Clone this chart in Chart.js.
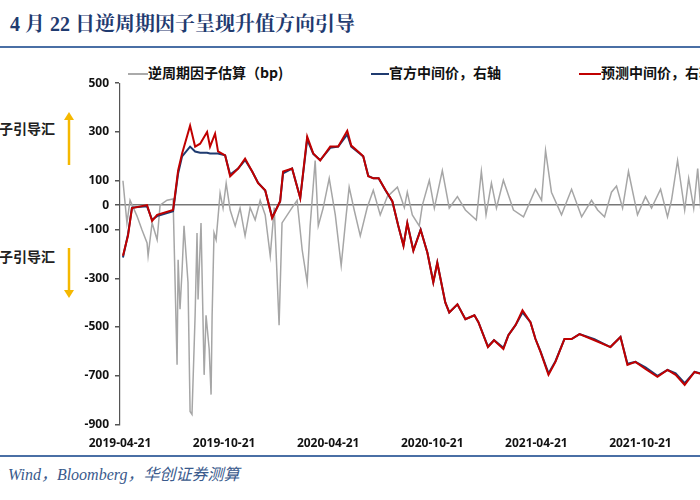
<!DOCTYPE html>
<html><head><meta charset="utf-8">
<script src="https://cdn.jsdelivr.net/npm/chart.js@4/dist/chart.umd.min.js"></script>
<style>
body{margin:0;width:700px;height:500px;overflow:hidden;position:relative;background:#fff;font-family:"Noto Sans CJK SC","Noto Sans",sans-serif}
.t{position:absolute;white-space:nowrap}
</style></head><body>
<div class="t" style="left:10px;top:8px;font-size:20px;font-weight:bold;color:#1f3b70;font-family:'Liberation Serif','Noto Serif CJK SC','Noto Sans CJK SC',serif">4 月 22 日逆周期因子呈现升值方向引导</div>
<div style="position:absolute;left:0;top:46px;width:700px;height:2px;background:#4a6fa5"></div>
<div style="position:absolute;left:0;top:455px;width:700px;height:2px;background:#4a6fa5"></div>
<div class="t" style="left:-72px;top:461px;font-size:16px;font-style:italic;color:#3a5a8c;font-family:'Liberation Serif','Noto Sans CJK SC',serif">资料来源：Wind，Bloomberg，华创证券测算</div>
<div class="t" style="right:645px;top:118px;font-size:14px;font-weight:bold;color:#222">逆周期因子引导汇</div>
<div class="t" style="right:645px;top:246px;font-size:14px;font-weight:bold;color:#222">逆周期因子引导汇</div>
<svg style="position:absolute;left:60px;top:110px" width="20" height="195">
<line x1="9" y1="8" x2="9" y2="55" stroke="#f5b800" stroke-width="2.5"/><polygon points="4,10 14,10 9,2" fill="#f5b800"/>
<line x1="9" y1="138" x2="9" y2="182" stroke="#f5b800" stroke-width="2.5"/><polygon points="4,180 14,180 9,188" fill="#f5b800"/>
</svg>
<div class="t" style="left:128px;top:62px;font-size:14px;font-weight:bold;color:#111"><span style="display:inline-block;width:20px;height:2px;background:#aaa;vertical-align:middle"></span>逆周期因子估算（bp)</div>
<div class="t" style="left:371px;top:62px;font-size:14px;font-weight:bold;color:#111"><span style="display:inline-block;width:18px;height:2px;background:#1f3b70;vertical-align:middle"></span>官方中间价，右轴</div>
<div class="t" style="left:579px;top:62px;font-size:14px;font-weight:bold;color:#111"><span style="display:inline-block;width:22px;height:2px;background:#c00000;vertical-align:middle"></span>预测中间价，右轴</div>
<div style="position:absolute;left:0;top:70px;width:748px;height:385px"><canvas id="c"></canvas></div>
<script>
const tickDates=["2019-04-21","2019-10-21","2020-04-21","2020-10-21","2021-04-21","2021-10-21"];
const yTicks=[500,300,100,0,-100,-300,-500,-700,-900];
const redX=[0.17,0.46,0.69,1.56,1.85,2.14,3.06,3.35,3.58,4.04,4.33,4.62,5.02,5.19,5.48,5.65,6.06,6.35,6.81,7.21,7.62,7.96,8.37,8.77,9.23,9.40,9.92,10.39,10.79,11.14,11.54,12.12,12.58,13.10,13.33,13.85,14.02,14.31,14.60,14.91,15.31,15.70,16.04,16.34,16.56,16.91,17.33,17.72,18.06,18.29,18.75,18.98,19.45,19.91,20.43,20.66,21.21,21.56,22.10,22.39,22.80,23.20,23.66,23.95,24.24,24.70,25.10,25.62,26.03,26.49,27.35,28.27,28.85,29.25,29.71,30.29,30.98,31.56,32.03,32.55,33.12,33.47,33.70,33.87];
const redY=[-208,-126,-12,0,-65,-40,-20,142,212,326,240,252,300,240,293,220,204,118,150,191,138,90,61,-53,16,138,150,28,281,212,183,240,240,305,244,212,200,118,110,110,61,16,-85,-167,-73,-187,-102,-195,-317,-236,-399,-440,-407,-468,-452,-480,-582,-554,-590,-533,-492,-431,-480,-549,-602,-696,-643,-549,-549,-529,-554,-582,-541,-655,-643,-672,-704,-676,-696,-737,-684,-692,-700,-695];
const blueY=[-215,-120,-10,-5,-60,-45,-25,130,200,240,220,215,215,212,212,212,204,125,150,185,138,92,60,-50,15,130,150,30,270,210,185,235,240,290,240,210,200,120,110,110,60,15,-85,-165,-75,-185,-100,-195,-315,-236,-399,-440,-407,-468,-452,-480,-580,-554,-585,-533,-492,-440,-480,-549,-600,-690,-640,-549,-549,-529,-550,-582,-541,-650,-643,-665,-700,-676,-690,-730,-684,-690,-698,-693];
const grayX=[0.17,0.40,0.58,0.98,1.27,1.56,1.62,1.85,2.14,2.31,2.71,3.06,3.29,3.35,3.46,3.58,3.69,3.92,4.04,4.15,4.33,4.44,4.50,4.67,4.85,4.96,5.14,5.25,5.31,5.42,5.54,5.77,5.94,6.12,6.35,6.64,6.92,7.21,7.50,7.79,8.08,8.37,8.66,8.89,9.17,9.34,9.92,10.21,10.50,10.79,10.96,11.25,11.43,11.71,12.06,12.41,12.75,13.04,13.21,13.50,13.85,14.25,14.60,15.00,15.41,15.99,16.39,16.56,16.85,17.25,17.43,17.83,18.12,18.58,18.98,19.45,19.91,20.54,20.83,21.10,21.41,21.70,22.10,22.68,23.26,23.95,24.30,24.53,24.87,25.45,26.03,26.61,27.18,27.53,27.93,28.33,28.62,28.97,29.31,29.83,30.29,30.64,31.16,31.56,31.79,32.14,32.55,32.78,33.07,33.30,33.47,33.70,33.87];
const grayY=[100,-73,20,-45,-102,-155,-208,-73,-142,0,20,25,-655,-224,-427,-265,-85,-317,-846,-858,-452,-114,-387,-73,-696,-452,-590,-777,-452,-114,-142,49,-12,90,-20,-85,-12,-126,-10,-60,20,-40,-208,-10,-492,-73,-10,20,-183,-317,-85,183,-85,-12,110,-40,-248,-40,74,-20,-126,-10,61,-40,35,74,-10,53,-40,-85,0,102,-12,142,-12,35,-20,-61,138,-40,90,-12,102,-20,-48,65,20,224,53,-40,65,-48,20,-20,-48,53,78,-12,138,-40,35,-12,65,-48,20,183,-20,110,-12,150,-12,-5,10];
const pts=(xs,ys)=>xs.map((x,i)=>({x,y:ys[i]}));
new Chart(document.getElementById('c'),{
 type:'line',
 data:{datasets:[
  {data:pts(grayX,grayY),borderColor:'#a6a6a6',borderWidth:1.5,pointRadius:0,tension:0,order:3},
  {data:pts(redX,blueY),borderColor:'#1f3b70',borderWidth:2,pointRadius:0,tension:0,order:2},
  {data:pts(redX,redY),borderColor:'#c00000',borderWidth:2,pointRadius:0,tension:0,order:1}
 ]},
 options:{responsive:true,maintainAspectRatio:false,animation:false,
  layout:{padding:{top:6,right:0,left:0,bottom:0}},
  plugins:{legend:{display:false},tooltip:{enabled:false}},
  scales:{
   x:{type:'linear',min:0,max:36.2,
     afterBuildTicks:s=>{s.ticks=tickDates.map((d,i)=>({value:i*6}));},
     ticks:{callback:(v)=>tickDates[Math.round(v/6)],color:'#111',font:{size:12,weight:'bold',family:'Noto Sans'},maxRotation:0,padding:4,autoSkip:false},
     grid:{display:false},border:{display:false}},
   y:{min:-900,max:500,
     afterBuildTicks:s=>{s.ticks=yTicks.map(v=>({value:v}));},
     afterFit:s=>{s.width=120;},
     ticks:{color:'#111',font:{size:12,weight:'bold',family:'Noto Sans'},padding:6},
     grid:{drawOnChartArea:true,color:c=>c.tick&&c.tick.value===0?'#777':'rgba(0,0,0,0)',lineWidth:1.5,tickLength:5,tickColor:'#555'},
     border:{display:true,color:'#555',width:1.2}}
  }}
});
</script></body></html>
